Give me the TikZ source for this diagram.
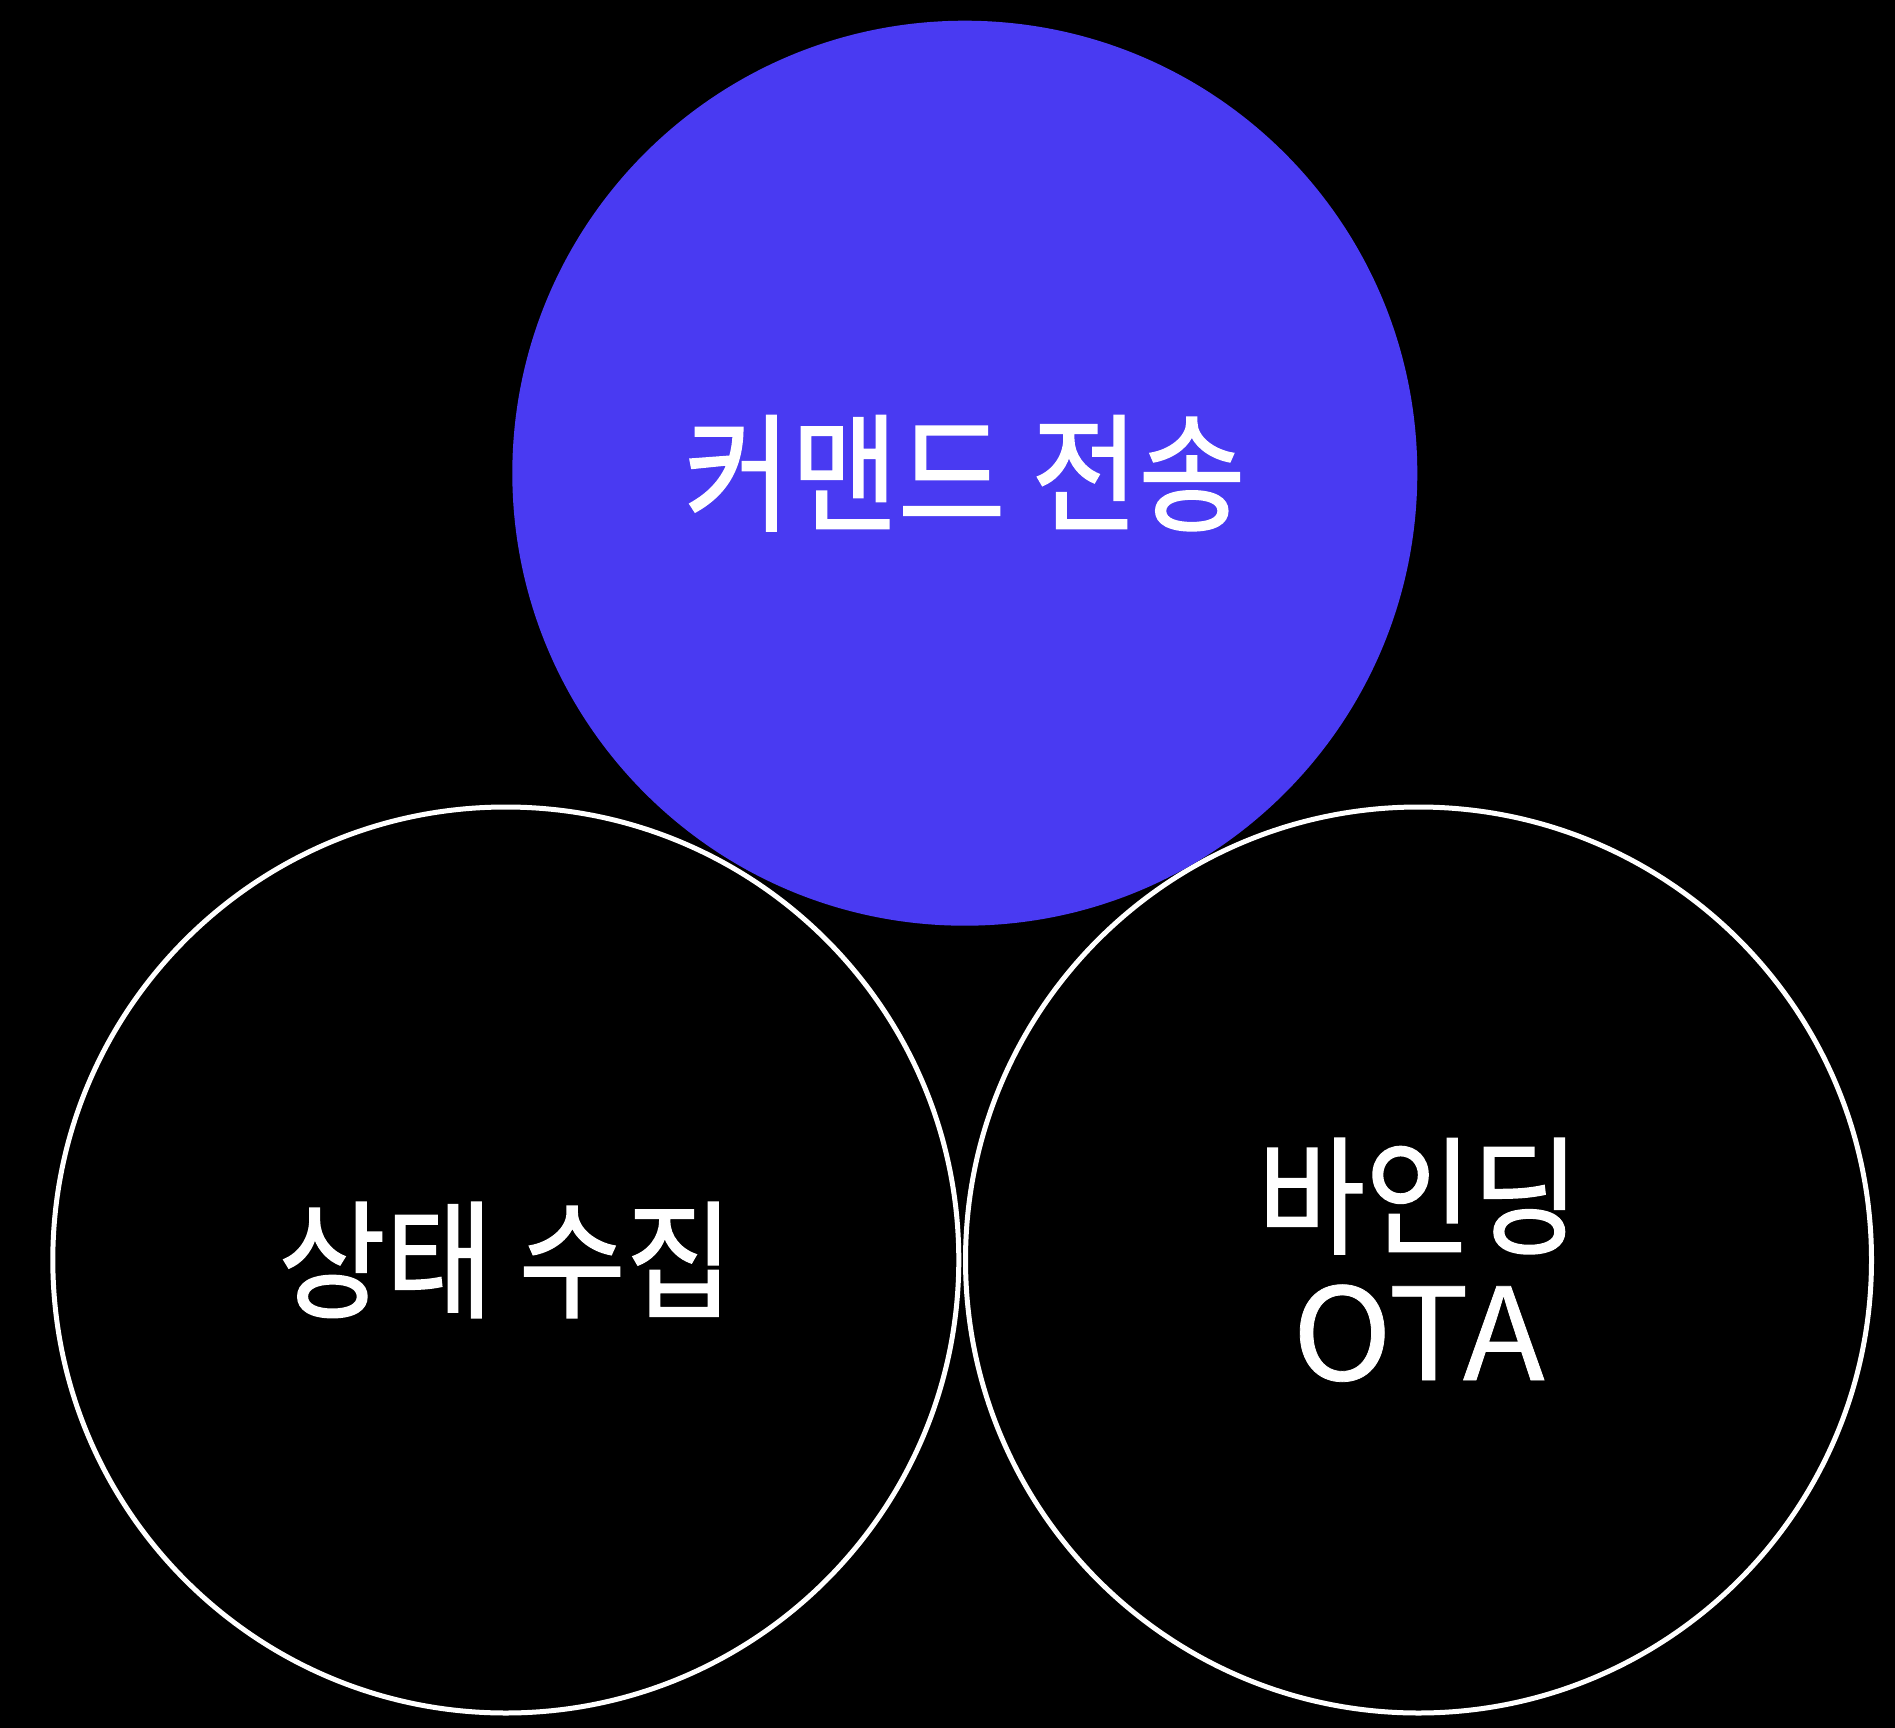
\documentclass[tikz,border=0pt]{standalone}
\usepackage{fontspec}
\newfontfamily\krfont[FakeStretch=0.91,FakeBold=1.2]{Noto Sans CJK KR}
\newfontfamily\latfont[FakeStretch=1.05,FakeBold=0.6]{Noto Sans CJK KR}
\definecolor{accent}{RGB}{73,58,242}
\begin{document}
\begin{tikzpicture}[x=1pt,y=-1pt,
  ring/.style={circle, draw=white, line width=5pt, fill=black, minimum size=906pt, inner sep=0pt},
  disc/.style={circle, fill=accent, draw=none, minimum size=905pt, inner sep=0pt},
  lbl/.style={text=white, align=center, inner sep=0pt, font=\fontsize{128}{136}\selectfont}]
\fill[black] (0,0) rectangle (1895,1728);
\useasboundingbox (0,0) rectangle (1895,1728);
\node[ring] (state) at (505.8,1260) {};
\node[ring] (bind) at (1418.5,1260) {};
\node[disc] (cmd) at (964.8,473.2) {};
\node[lbl] (cmdtxt) at (cmd.center) {\krfont 커맨드 전송};
\node[lbl] (statetxt) at (state.center) {\krfont 상태 수집};
\node[lbl] (bindtxt) at (bind.center) {\krfont 바인딩\\\latfont OTA};
\end{tikzpicture}
\end{document}
